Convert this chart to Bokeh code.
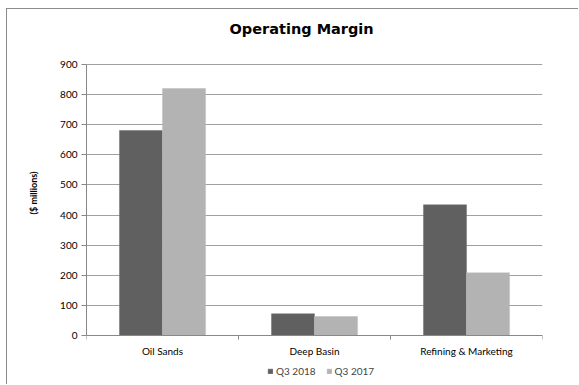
import numpy as np
from bokeh.plotting import figure
from bokeh.models import (Range1d, FixedTicker, Legend, LegendItem, ColumnDataSource, Title)
from bokeh.embed import file_html
from bokeh.resources import INLINE

categories = ["Oil Sands", "Deep Basin", "Refining & Marketing"]
q3_2018 = [681, 72, 434]
q3_2017 = [820, 63, 208]
series_names = ["Q3 2018", "Q3 2017"]
y_ticks = [0, 100, 200, 300, 400, 500, 600, 700, 800, 900]
y_label = "($ millions)"

FONT = "Lato"
idx = np.arange(len(categories)) + 0.5
bar_w = 0.283

OX, OY = 6, 8  # outer chart border offset
W, H = 579 - OX - 1, 385 - OY - 1
FRAME_TOP = 33               # canvas px
Y0_PX, Y900_PX = 326, 55     # canvas px of value 0 and 900
upp = 900 / (Y0_PX - Y900_PX)
y_end = 900 + (Y900_PX - FRAME_TOP) * upp
y_start = -(H - Y0_PX) * upp

p = figure(width=W, height=H, output_backend="svg", toolbar_location=None,
           x_range=Range1d(0, len(categories)), y_range=Range1d(y_start, y_end),
           min_border_left=86 - OX - 1, min_border_right=W - (542 - OX - 1),
           min_border_top=FRAME_TOP, min_border_bottom=0)
p.styles = {"margin-left": f"{OX}px", "margin-top": f"{OY}px",
            "border-left": "1px solid #8c8c8c", "border-top": "1px solid #8c8c8c"}
p.outline_line_color = None
p.background_fill_color = "white"
p.border_fill_color = "white"

src = ColumnDataSource(dict(x1=idx - bar_w / 2, x2=idx + bar_w / 2, a=q3_2018, b=q3_2017))
r1 = p.vbar(x="x1", top="a", width=bar_w, source=src, fill_color="#606060", line_color="#707070", line_width=0.5)
r2 = p.vbar(x="x2", top="b", width=bar_w, source=src, fill_color="#b3b3b3", line_color="#bdbdbd", line_width=0.5)

# title (centred over the whole chart area, not only the plot frame)
p.title.text = "Operating Margin"
p.title.align = "left"
p.title.offset = 143
p.title.text_font = "DejaVu Sans"
p.title.text_font_size = "14.5px"
p.title.text_font_style = "bold"
p.title.text_color = "black"
p.title.standoff = 12

# x axis drawn at value 0
xa = p.xaxis[0]
xa.fixed_location = 0
xa.ticker = FixedTicker(ticks=list(idx), minor_ticks=[0, 1, 2, 3])
xa.major_label_overrides = {float(v): c for v, c in zip(idx, categories)}
xa.major_tick_line_color = None
xa.major_tick_in = 0
xa.major_tick_out = 0
xa.minor_tick_line_color = "#888888"
xa.minor_tick_in = 0
xa.minor_tick_out = 4
xa.axis_line_color = "#888888"
xa.major_label_text_font = FONT
xa.major_label_text_font_size = "10px"
xa.major_label_text_color = "black"
xa.major_label_standoff = 5

# y axis
ya = p.yaxis[0]
ya.bounds = (0, 900)
ya.ticker = FixedTicker(ticks=y_ticks)
ya.minor_tick_line_color = None
ya.major_tick_in = 0
ya.major_tick_out = 5
ya.major_tick_line_color = "#888888"
ya.axis_line_color = "#888888"
ya.major_label_text_font = FONT
ya.major_label_text_font_size = "10px"
ya.major_label_text_color = "black"
ya.major_label_standoff = 4

# y axis title, placed beside the axis
ylab = Title(text=y_label, align="right", offset=129, standoff=37,
             text_font=FONT, text_font_size="9px", text_font_style="bold", text_color="black")
p.add_layout(ylab, "left")

p.xgrid.grid_line_color = None
p.ygrid.ticker = FixedTicker(ticks=y_ticks)
p.ygrid.grid_line_color = "#a0a0a0"
p.ygrid.grid_line_width = 1

legend = Legend(items=[LegendItem(label=series_names[0], renderers=[r1]),
                       LegendItem(label=series_names[1], renderers=[r2])],
                location=(181, 8), orientation="horizontal",
                glyph_width=6, glyph_height=6, label_standoff=3, spacing=10,
                padding=0, margin=0, border_line_color=None, background_fill_alpha=0,
                label_text_font=FONT, label_text_font_size="10px", label_height=10)
p.add_layout(legend, "center")

open("out.html", "w").write(file_html(p, INLINE))
